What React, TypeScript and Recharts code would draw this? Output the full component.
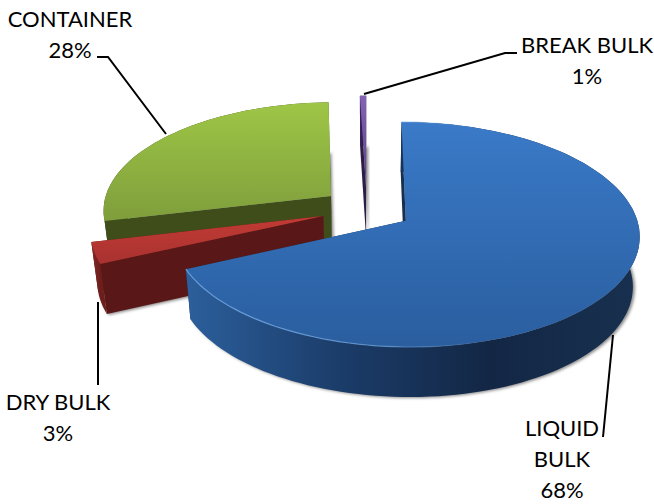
import { PieChart, Pie } from "recharts";

// clockwise from the top the slices are liquid, dry, container, break;
// listed counter-clockwise so the painter's order comes out back to front
const names = ["BREAK BULK", "CONTAINER", "DRY BULK", "LIQUID BULK"];
const shares = [0.5, 28.2, 3.1, 68.2];
const labelLines = [["BREAK BULK"], ["CONTAINER"], ["DRY BULK"], ["LIQUID", "BULK"]];

const data = names.map((name, i) => ({ name, value: shares[i] }));

const SLICE_STYLES = [
  { top: ["#8563b4", "#5b3f86"], wall: ["#3a2560", "#2c1d45", "#2c1d45"], side: "#2c1d45", rim: "none" },
  { top: ["#9ec646", "#7f9e3c"], wall: ["#3f4d1b", "#3f4d1b", "#3f4d1b"], side: "#3f4d1b", rim: "none" },
  { top: ["#c23b34", "#a93230"], wall: ["#8a2623", "#7a2220", "#6d1e1c"], side: "#591817", rim: "none" },
  { top: ["#3a7ac8", "#2a5e9f"], wall: ["#2c5f9c", "#1b3d6a", "#132745", "#18304f"], side: "#17304f", rim: "#6ea3e0" },
];

const LABELS = [
  { x: 587, y: 53, line: [[364, 94], [505, 53], [517, 53]] },
  { x: 70, y: 27, line: [[97, 57], [108, 57], [166, 134]] },
  { x: 58, y: 410, line: [[98, 302], [98, 385]] },
  { x: 562, y: 436, line: [[613, 335], [603, 437]] },
];

const CX = 366.8;
const CY = 209;
const RADIUS = 228.6;
const TILT = 0.4724;
const PERSPECTIVE = 0.12;
const DEPTH = 50;
const BOTTOM_SCALE = 0.975;
const EXPLODE = 0.2;
const RAD = Math.PI / 180;

type Pt = [number, number];

const project = (u: number, v: number, cx: number, cy: number, r: number): Pt => {
  const w = 1 - PERSPECTIVE * v;
  return [cx + (r * u) / w, cy + (r * TILT * v) / w];
};
const lower = (p: Pt, cx: number): Pt => [cx + (p[0] - cx) * BOTTOM_SCALE, p[1] + DEPTH];
const toPath = (pts: Pt[]) => pts.map((p, i) => (i ? "L" : "M") + p[0].toFixed(1) + " " + p[1].toFixed(1)).join(" ") + " Z";
const toLine = (pts: Pt[]) => pts.map((p) => p[0].toFixed(1) + "," + p[1].toFixed(1)).join(" ");

function Slice(props: any) {
  const { cx, cy, outerRadius, startAngle, endAngle, midAngle, index } = props;
  const style = SLICE_STYLES[index];
  const mid = (midAngle ?? (startAngle + endAngle) / 2) * RAD;
  const u0 = EXPLODE * Math.cos(mid);
  const v0 = -EXPLODE * Math.sin(mid);
  const apex = project(u0, v0, cx, cy, outerRadius);
  const arc: Pt[] = [];
  const steps = Math.max(2, Math.ceil(Math.abs(endAngle - startAngle) / 2));
  for (let i = 0; i <= steps; i++) {
    const a = (startAngle + ((endAngle - startAngle) * i) / steps) * RAD;
    arc.push(project(u0 + Math.cos(a), v0 - Math.sin(a), cx, cy, outerRadius));
  }
  const low = arc.map((p) => lower(p, cx));
  const lowApex = lower(apex, cx);
  const face = [apex, ...arc];
  const first = arc[0];
  const last = arc[arc.length - 1];
  const xs = arc.map((p) => p[0]);
  const minX = Math.min(...xs);
  const maxX = Math.max(...xs);
  const stops = style.wall;
  return (
    <g>
      <defs>
        <linearGradient id={"top" + index} x1="0" y1="0" x2="0" y2="1">
          <stop offset="0" stopColor={style.top[0]} />
          <stop offset="1" stopColor={style.top[1]} />
        </linearGradient>
        <linearGradient id={"wall" + index} gradientUnits="userSpaceOnUse" x1={minX} y1="0" x2={maxX} y2="0">
          {stops.map((c, i) => (
            <stop key={i} offset={i / (stops.length - 1)} stopColor={c} />
          ))}
        </linearGradient>
        <linearGradient id={"rim" + index} gradientUnits="userSpaceOnUse" x1={minX} y1="0" x2={maxX} y2="0">
          <stop offset="0" stopColor={style.rim} stopOpacity="0.9" />
          <stop offset="0.45" stopColor={style.rim} stopOpacity="0.7" />
          <stop offset="0.65" stopColor={style.rim} stopOpacity="0" />
        </linearGradient>
        <filter id={"blur" + index} x="-20%" y="-20%" width="140%" height="140%">
          <feGaussianBlur stdDeviation="1.6" />
        </filter>
      </defs>
      <path d={toPath([lowApex, ...low])} transform="translate(2,1)" fill="#8a8a8a" filter={`url(#blur${index})`} />
      <path d={toPath([apex, first, low[0], lowApex])} fill={style.side} />
      <path d={toPath([apex, last, low[low.length - 1], lowApex])} fill={style.side} />
      <path d={toPath([...arc, ...[...low].reverse()])} fill={`url(#wall${index})`} />
      <path d={toPath(face)} fill={`url(#top${index})`} />
      {style.rim !== "none" && <polyline points={toLine(arc)} fill="none" stroke={`url(#rim${index})`} strokeWidth={1.2} />}
    </g>
  );
}

function SliceLabel(props: any) {
  const i = props.index;
  const spot = LABELS[i];
  const lines = [...labelLines[i], Math.round(shares[i]) + "%"];
  return (
    <g>
      <polyline points={toLine(spot.line as Pt[])} fill="none" stroke="#000" strokeWidth={2} />
      <text x={spot.x} y={spot.y} textAnchor="middle" fontFamily="Lato, sans-serif" fontSize={22} fill="#000">
        {lines.map((t, k) => (
          <tspan key={k} x={spot.x} dy={k ? 31 : 0}>
            {t}
          </tspan>
        ))}
      </text>
    </g>
  );
}

export default function App() {
  return (
    <div style={{ position: "absolute", left: 0, top: 0, width: 654, height: 504, background: "#fff" }}>
      <PieChart width={654} height={504} margin={{ top: 0, right: 0, bottom: 0, left: 0 }}>
        <Pie
          data={data}
          dataKey="value"
          nameKey="name"
          cx={CX}
          cy={CY}
          innerRadius={0}
          outerRadius={RADIUS}
          startAngle={90}
          endAngle={450}
          stroke="none"
          shape={Slice}
          label={SliceLabel}
          labelLine={false}
          isAnimationActive={false}
        />
      </PieChart>
    </div>
  );
}
